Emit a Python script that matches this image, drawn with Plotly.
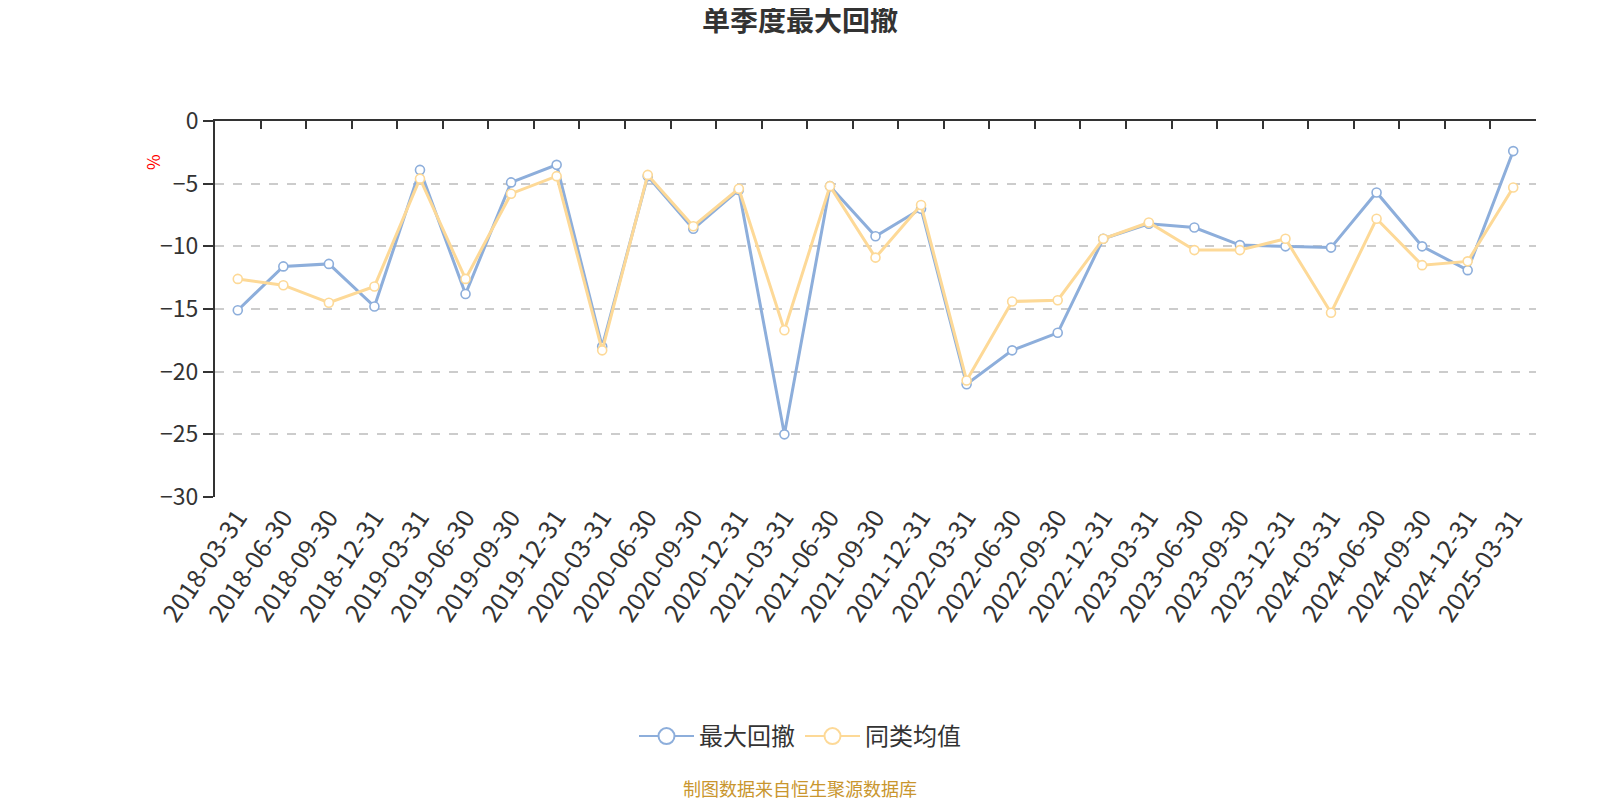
import plotly.graph_objects as go

dates = ["2018-03-31", "2018-06-30", "2018-09-30", "2018-12-31",
         "2019-03-31", "2019-06-30", "2019-09-30", "2019-12-31",
         "2020-03-31", "2020-06-30", "2020-09-30", "2020-12-31",
         "2021-03-31", "2021-06-30", "2021-09-30", "2021-12-31",
         "2022-03-31", "2022-06-30", "2022-09-30", "2022-12-31",
         "2023-03-31", "2023-06-30", "2023-09-30", "2023-12-31",
         "2024-03-31", "2024-06-30", "2024-09-30", "2024-12-31",
         "2025-03-31"]

max_drawdown = [-15.1, -11.6, -11.4, -14.8,
                -3.9, -13.8, -4.9, -3.5,
                -18.0, -4.4, -8.6, -5.5,
                -25.0, -5.2, -9.2, -7.0,
                -21.0, -18.3, -16.9, -9.4,
                -8.2, -8.5, -9.9, -10.0,
                -10.1, -5.7, -10.0, -11.9,
                -2.4]

peer_avg = [-12.6, -13.1, -14.5, -13.2,
            -4.6, -12.6, -5.8, -4.4,
            -18.3, -4.3, -8.4, -5.4,
            -16.7, -5.2, -10.9, -6.7,
            -20.7, -14.4, -14.3, -9.4,
            -8.1, -10.3, -10.3, -9.4,
            -15.3, -7.8, -11.5, -11.2,
            -5.3]

y_ticks = [0, -5, -10, -15, -20, -25, -30]

BLUE = "#8DAEDB"
YELLOW = "#FDD997"
FONT = "Noto Sans CJK SC"
n = len(dates)

# figure is drawn inside the page's default 8px body margin
W, H = 1592, 792
L, R, T, B = 207, 64, 113, 303
plot_w = W - L - R
plot_h = H - T - B
PAGE_CX = 792  # page centre in figure pixels

fig = go.Figure()
for name, vals, col in [("最大回撤", max_drawdown, BLUE), ("同类均值", peer_avg, YELLOW)]:
    fig.add_trace(go.Scatter(
        x=dates, y=vals, name=name, mode="lines+markers", legendgroup=name,
        showlegend=False,
        line=dict(color=col, width=3),
        marker=dict(symbol="circle", size=9, color="white", line=dict(color=col, width=1.6)),
    ))
    # legend entry with larger symbol
    fig.add_trace(go.Scatter(
        x=[None], y=[None], name=name, mode="lines+markers", legendgroup=name,
        line=dict(color=col, width=2),
        marker=dict(symbol="circle", size=16, color="white", line=dict(color=col, width=2)),
    ))
# invisible helper trace so the top axis (boundary ticks) is drawn
fig.add_trace(go.Scatter(
    x=list(range(n)), y=max_drawdown, xaxis="x2", mode="markers",
    marker=dict(opacity=0), showlegend=False, hoverinfo="skip",
))

def py(pix):
    """figure-pixel y to paper coordinate"""
    return (H - B - pix) / plot_h

def px(pix):
    """figure-pixel x to paper coordinate"""
    return (pix - L) / plot_w

fig.update_layout(
    width=W, height=H,
    paper_bgcolor="white", plot_bgcolor="white",
    margin=dict(l=L, r=R, t=T, b=B),
    font=dict(family=FONT, color="#333333"),
    title=dict(text="<b>单季度最大回撤</b>", x=PAGE_CX / W, xanchor="center",
               y=1 - 3 / H, yanchor="top", yref="container",
               font=dict(size=28, color="#333333", family=FONT)),
    xaxis=dict(type="category", categoryorder="array", categoryarray=dates,
               range=[-0.5, n - 0.5], showline=False, ticks="", showgrid=False,
               tickangle=-56, tickfont=dict(size=25, color="#333333", family=FONT),
               zeroline=False),
    xaxis2=dict(overlaying="x", side="top", range=[-0.5, n - 0.5],
                tickvals=[i - 0.5 for i in range(n + 1)], ticks="inside",
                ticklen=8, tickwidth=2, tickcolor="#333333",
                showticklabels=False, showline=True, linewidth=2,
                linecolor="#333333", showgrid=False, zeroline=False),
    yaxis=dict(range=[-30, 0], tickvals=y_ticks, ticks="outside", ticklen=10,
               tickwidth=2, tickcolor="#333333", showline=True, linewidth=2,
               linecolor="#333333", showgrid=True, gridcolor="#CCCCCC",
               gridwidth=1.5, griddash="dash", zeroline=False,
               tickfont=dict(size=23, color="#333333", family=FONT)),
    legend=dict(orientation="h", x=px(PAGE_CX), xanchor="center",
                y=py(728.5), yanchor="middle", itemwidth=55,
                font=dict(size=24, color="#333333", family=FONT)),
    annotations=[
        dict(text="%", x=px(144), y=py(154), xref="paper", yref="paper",
             xanchor="center", yanchor="middle",
             showarrow=False, textangle=-90,
             font=dict(size=17, color="red", family=FONT)),
        dict(text="制图数据来自恒生聚源数据库", x=px(PAGE_CX), y=py(780),
             xref="paper", yref="paper", showarrow=False,
             xanchor="center", yanchor="middle",
             font=dict(size=18, color="#C9962E", family=FONT)),
    ],
)

fig.write_html("out.html")
